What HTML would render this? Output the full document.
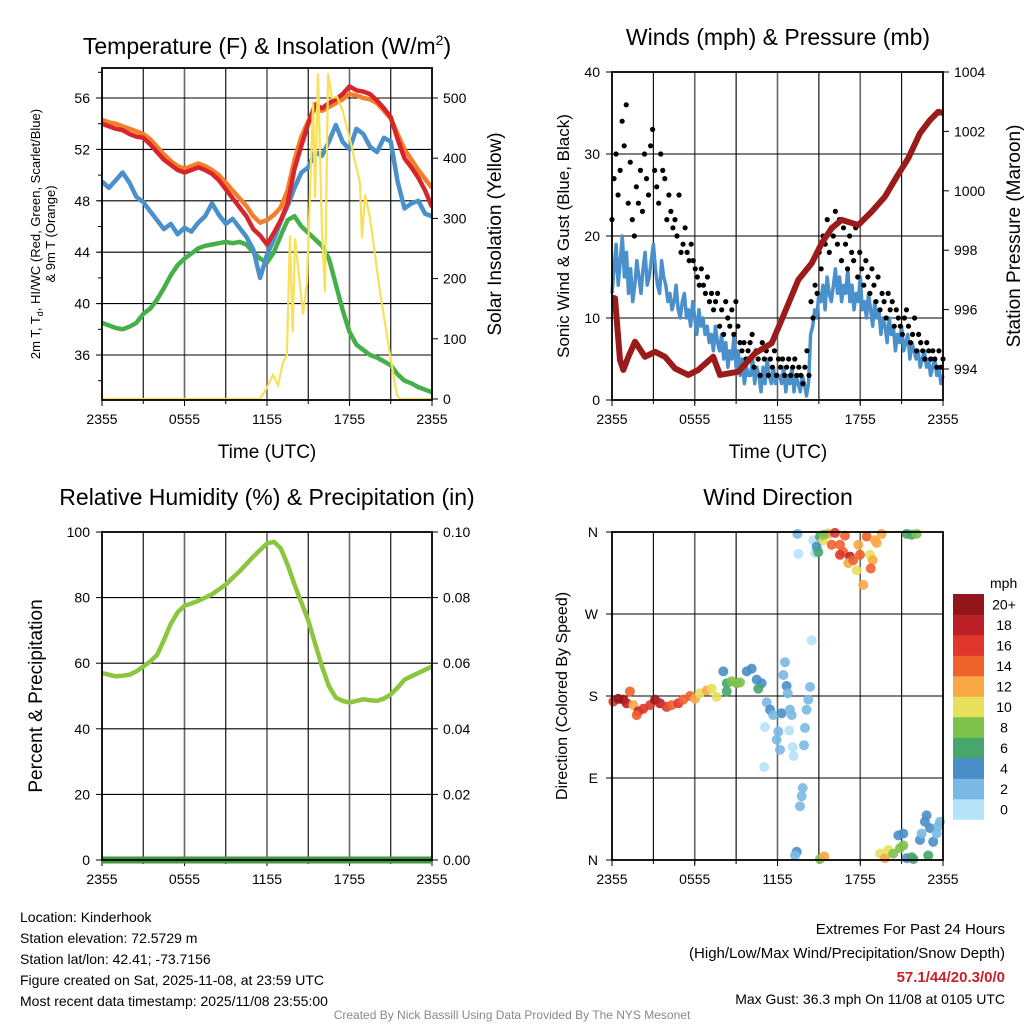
<!DOCTYPE html>
<html><head><meta charset="utf-8"><title>Kinderhook Mesonet</title>
<style>
body{margin:0;background:#fff;}
svg{display:block;font-family:"Liberation Sans",sans-serif;}
</style></head>
<body>
<svg id="chart" width="1024" height="1024" viewBox="0 0 1024 1024" xmlns="http://www.w3.org/2000/svg">
<rect x="0" y="0" width="1024" height="1024" fill="#fff"/>
<g id="layer"></g>
<!-- Titles -->
<text x="267" y="54" font-size="23" text-anchor="middle">Temperature (F) &amp; Insolation (W/m<tspan dy="-9" font-size="14">2</tspan><tspan dy="9">)</tspan></text>
<text x="778" y="45" font-size="23" text-anchor="middle">Winds (mph) &amp; Pressure (mb)</text>
<text x="267" y="505" font-size="23" text-anchor="middle">Relative Humidity (%) &amp; Precipitation (in)</text>
<text x="778" y="505" font-size="23" text-anchor="middle">Wind Direction</text>
<!-- axis titles -->
<text transform="translate(40,234) rotate(-90)" font-size="13" text-anchor="middle">2m T, T<tspan font-size="9" dy="3">d</tspan><tspan dy="-3">, HI/WC (Red, Green, Scarlet/Blue)</tspan></text>
<text transform="translate(55,234) rotate(-90)" font-size="13" text-anchor="middle">&amp; 9m T (Orange)</text>
<text transform="translate(501,234) rotate(-90)" font-size="19" text-anchor="middle">Solar Insolation (Yellow)</text>
<text x="267" y="458" font-size="19" text-anchor="middle">Time (UTC)</text>
<text transform="translate(569,236) rotate(-90)" font-size="17" text-anchor="middle">Sonic Wind &amp; Gust (Blue, Black)</text>
<text transform="translate(1020,236) rotate(-90)" font-size="19" text-anchor="middle">Station Pressure (Maroon)</text>
<text x="778" y="458" font-size="19" text-anchor="middle">Time (UTC)</text>
<text transform="translate(42,696) rotate(-90)" font-size="19" text-anchor="middle">Percent &amp; Precipitation</text>
<text transform="translate(567,696) rotate(-90)" font-size="16" text-anchor="middle">Direction (Colored By Speed)</text>
<text x="990" y="588" font-size="14">mph</text>
<!-- footer -->
<g font-size="14">
<text x="20" y="922">Location: Kinderhook</text>
<text x="20" y="943">Station elevation: 72.5729 m</text>
<text x="20" y="964">Station lat/lon: 42.41; -73.7156</text>
<text x="20" y="985">Figure created on Sat, 2025-11-08, at 23:59 UTC</text>
<text x="20" y="1006">Most recent data timestamp: 2025/11/08 23:55:00</text>
</g>
<g font-size="15" text-anchor="end">
<text x="1005" y="934">Extremes For Past 24 Hours</text>
<text x="1005" y="958">(High/Low/Max Wind/Precipitation/Snow Depth)</text>
<text x="1005" y="982" fill="#c8202a" font-weight="bold">57.1/44/20.3/0/0</text>
<text x="1005" y="1004" font-size="14">Max Gust: 36.3 mph On 11/08 at 0105 UTC</text>
</g>
<text x="512" y="1019" font-size="12" fill="#888" text-anchor="middle">Created By Nick Bassill Using Data Provided By The NYS Mesonet</text>
</svg>
<script>
// ---------- DATA ----------
const xTickLabels = ["2355","0555","1155","1755","2355"];
const tempTicks = [36,40,44,48,52,56];
const solarTicks = [0,100,200,300,400,500];
const windTicks = [0,10,20,30,40];
const pressTicks = [994,996,998,1000,1002,1004];
const rhTicks = [0,20,40,60,80,100];
const precipTicks = ["0.00","0.02","0.04","0.06","0.08","0.10"];
const dirTickLabels = ["N","E","S","W","N"];
const speedBins = ["0","2","4","6","8","10","12","14","16","18","20+"];

const tempRed = [54.0,53.8,53.6,53.5,53.2,53.0,52.9,52.4,51.8,51.2,50.8,50.4,50.2,50.4,50.6,50.4,50.1,49.6,48.9,48.2,47.5,46.8,45.8,45.3,44.6,45.5,46.5,47.8,50.5,52.3,54.0,55.5,55.2,55.6,55.9,56.3,56.9,56.6,56.5,56.3,55.8,55.2,54.5,52.8,51.3,50.6,49.8,48.8,47.5];
const tempOrange = [54.3,54.1,54.0,53.8,53.6,53.4,53.2,52.8,52.2,51.6,51.1,50.7,50.5,50.7,50.9,50.7,50.4,50.0,49.4,48.8,48.2,47.6,46.8,46.3,46.5,46.9,47.5,48.8,51.2,53.0,54.2,55.2,55.0,55.3,55.6,55.9,56.3,56.2,56.0,55.9,55.6,55.0,54.4,53.2,52.0,51.2,50.4,49.7,49.0];
const tempBlue = [49.5,49.0,49.6,50.2,49.4,48.3,47.9,47.2,46.5,45.8,46.2,45.4,45.9,45.6,46.3,46.8,47.8,46.9,46.2,46.6,45.9,45.2,44.2,42.0,43.8,45.0,46.4,47.6,49.0,50.2,50.6,51.8,51.5,52.6,53.9,52.6,52.0,53.6,53.2,52.2,51.8,52.9,52.6,49.5,47.4,47.8,48.0,47.0,46.8];
const tempGreen = [38.5,38.3,38.1,38.0,38.2,38.5,39.2,39.6,40.3,41.2,42.2,43.0,43.5,43.9,44.3,44.5,44.6,44.7,44.8,44.7,44.8,44.6,44.0,43.5,43.2,44.0,45.3,46.5,46.8,46.0,45.5,45.0,44.5,43.5,41.5,39.5,37.8,36.8,36.4,36.0,35.8,35.5,35.2,34.5,34.0,33.8,33.5,33.3,33.1];
const solarHours = [0,11.49,11.98,12.44,12.8,13.16,13.45,13.67,13.87,14.04,14.25,14.62,14.91,15.13,15.35,15.49,15.71,16.0,16.22,16.44,16.73,17.09,17.53,18.18,18.76,18.91,19.13,19.49,20.22,20.95,21.45,21.67,24];
const solarVals = [0,0,18,40,23,61,73,272,111,267,222,140,194,344,493,334,541,277,178,541,500,502,477,417,360,267,339,301,178,73,7,0,0];

const windSpeed = [13,16,19,14,17,20,15,18,13,16,12,14,17,15,13,16,18,14,15,17,19,16,14,13,17,15,14,12,13,11,12,14,11,10,12,13,10,11,9,12,10,8,11,9,10,8,9,7,8,6,9,7,6,8,5,7,4,6,5,8,4,6,3,5,2,4,3,3,5,2,4,3,1,4,2,5,3,2,4,2,3,3,2,4,1,3,2,4,1,3,2,1,3,2,0.5,2,8,9,11,10,13,12,14,11,15,13,12,14,16,13,15,12,14,13,16,12,14,11,13,12,15,11,12,10,13,11,9,12,10,11,8,10,9,7,10,8,9,6,8,7,9,6,7,8,5,7,6,5,6,4,5,6,4,5,3,4,5,3,4,2,3];
const gustVals = [22,27,30,25,28,34,31,36,24,29,22,20,26,24,28,23,30,27,25,31,33,28,26,24,30,28,27,22,25,23,21,22,20,25,18,19,21,18,17,19,17,16,15,14,16,14,13,15,12,13,11,12,13,9,11,8,12,10,9,11,8,12,9,7,6,7,5,6,7,8,4,6,5,3,7,5,6,3,5,4,6,3,5,4,5,3,4,5,3,4,5,3,4,3,2,4,6,3,12,10,14,13,18,16,20,19,22,18,21,20,23,19,22,17,21,19,16,20,18,17,21,15,18,16,14,17,15,13,16,14,12,15,11,13,12,10,13,11,12,9,11,10,9,8,10,11,9,7,8,10,6,8,7,6,5,7,6,5,6,5,4,6,4,5];
const pressHours = [0,0.22,0.58,0.82,1.18,1.67,2.39,3.12,3.84,4.57,5.53,6.26,7.34,7.83,9.16,10.37,11.58,12.3,13.51,14.48,15.2,15.93,16.65,17.86,18.83,19.79,20.64,21.48,22.33,23.06,23.66,24];
const pressVals = [996.4,996.38,994.3,993.97,994.41,994.92,994.41,994.58,994.41,994.02,993.8,993.97,994.41,993.8,993.91,994.53,994.87,995.65,997.0,997.56,998.23,998.74,999.02,998.85,999.3,999.8,1000.47,1001.09,1001.94,1002.38,1002.66,1002.62];

const rhVals = [57,56.5,56,56.2,56.5,57.5,59,60.5,62.5,67,72,75.5,77.5,78.2,79,80,81,82.5,84,86,88,90.2,92.5,94.5,96.5,97,95,90,84,78.5,73,66,59,53,49.5,48.5,48,48.5,49,48.7,48.5,49.2,50.5,52.5,55,56,57,58,59];
const precipVals = [0,0,0,0,0,0,0,0,0,0,0,0,0,0,0,0,0,0,0,0,0,0,0,0,0];

const dirHours = [0.1,0.46,0.82,1.3,1.06,1.55,1.91,1.79,2.27,2.76,3.12,3.48,3.96,4.33,4.81,5.17,5.66,6.02,6.38,6.87,7.23,7.59,8.07,8.32,8.68,9.04,9.28,9.77,10.13,10.49,10.85,10.61,8.32,
12.54,12.42,12.66,12.74,11.22,11.46,11.69,12.3,12.9,13.03,14.23,14.36,14.11,11.09,12.06,11.94,12.18,12.85,13.1,13.17,13.99,13.92,11.04,14.48,13.83,13.75,13.63,13.39,13.27,
13.44,13.51,14.59,14.72,14.84,15.08,14.96,15.32,15.68,15.93,16.17,16.53,16.89,16.77,17.26,16.53,17.13,17.49,17.86,17.98,17.74,18.22,18.47,18.71,18.9,18.76,19.07,19.55,19.19,15.32,
21.37,21.73,22.09,
15.08,15.39,19.43,19.79,20.03,20.39,20.88,21.12,20.76,21.12,21.37,21.73,21.85,22.33,22.45,22.69,22.81,23.06,23.29,23.54,23.66,23.78,22.93];
const dirDeg = [174,177,176,185,172,170,163,159,166,170,176,172,168,170,172,176,180,177,183,186,188,179,207,194,196,194,195,207,210,198,194,188,185,
217,203,191,183,173,165,159,161,165,159,176,190,165,146,141,132,121,142,124,114,145,126,102,241,79,70,59,9,5,
358,336,351,337,344,355,338,351,358,346,359,346,356,338,333,335,326,329,346,335,318,302,355,335,329,320,351,358,348,357,
358,357,358,
1,4,7,2,11,7,13,16,27,29,2,3,1,22,29,42,49,35,20,29,37,42,5];
const dirSpeed = [16,20,20,14,18,12,18,14,16,16,20,18,16,14,16,14,14,12,10,12,10,10,4,6,8,8,8,4,4,4,4,6,6,
2,2,4,2,2,4,2,4,2,2,2,2,2,0,2,2,2,0,0,0,2,2,0,0,2,2,2,4,2,
2,0,0,0,4,6,6,10,12,14,16,14,14,14,18,16,12,14,12,14,10,12,14,10,12,14,12,12,12,8,
6,6,8,
8,12,10,12,10,8,8,8,4,4,4,6,6,4,2,4,4,4,4,2,2,2,6];

const binColors = ["#b5e3f7","#7ab9e4","#4a8ec8","#47a66c","#7dc24c","#e7e05b","#f8a845","#f0622b","#e0362b","#bd1f27","#921619"];

// ---------- helpers ----------
const NS = "http://www.w3.org/2000/svg";
const layer = document.getElementById("layer");
function mk(tag, attrs, parent){
  const e = document.createElementNS(NS, tag);
  for (const k in attrs) e.setAttribute(k, attrs[k]);
  (parent||layer).appendChild(e);
  return e;
}
function lin(d0,d1,r0,r1){ return v => r0 + (v-d0)*(r1-r0)/(d1-d0); }

function framePanel(name, x0, x1, y0, y1, hGrid){
  const g = mk("g", {});
  
  
  const xs = lin(0,24,x0,x1);
  for (let h=3; h<24; h+=3){
    const gl = mk("line",{x1:xs(h),x2:xs(h),y1:y0,y2:y1,stroke:(h%6===0)?"#666":"#000","stroke-width":(h%6===0)?1.6:1.1},g);
    
    
  }
  hGrid.forEach(y=>{
    const gl = mk("line",{x1:x0,x2:x1,y1:y,y2:y,stroke:"#000","stroke-width":1.1},g);
    
    
  });
  xTickLabels.forEach((lab,i)=>{
    const x = xs(i*6);
    mk("line",{x1:x,x2:x,y1:y1,y2:y1+6,stroke:"#000"},g);
    const t = mk("text",{x:x,y:y1+24,"font-size":14,"text-anchor":"middle"},g);
    t.textContent = lab;
    
    
  });
  for (let h=0; h<=24; h+=3){ mk("line",{x1:xs(h),x2:xs(h),y1:y1,y2:y1+4,stroke:"#000"},g); }
  return {g, xs};
}
function border(g,x0,x1,y0,y1){
  const b = mk("rect",{x:x0,y:y0,width:x1-x0,height:y1-y0,fill:"none",stroke:"#000","stroke-width":1.8},g);
  
  
}
function leftTicks(g, vals, ys, x0, name, fmt){
  vals.forEach(v=>{
    mk("line",{x1:x0-6,x2:x0,y1:ys(v),y2:ys(v),stroke:"#000"},g);
    const t = mk("text",{x:x0-12,y:ys(v)+5,"font-size":14,"text-anchor":"end"},g);
    t.textContent = fmt?fmt(v):v;
    
    
  });
}
function rightTicks(g, vals, ys, x1, name, labels){
  vals.forEach((v,i)=>{
    mk("line",{x1:x1,x2:x1+6,y1:ys(v),y2:ys(v),stroke:"#000"},g);
    const t = mk("text",{x:x1+11,y:ys(v)+5,"font-size":14,"text-anchor":"start"},g);
    t.textContent = labels?labels[i]:v;
    
    
  });
}
function pathFrom(ts, vs, xs, ys){
  return vs.map((v,i)=>(i?"L":"M")+xs(ts[i]).toFixed(1)+","+ys(v).toFixed(1)).join("");
}
function evenHours(n){ const a=[]; for(let i=0;i<n;i++) a.push(i*24/(n-1)); return a; }

// ---------- Panel 1: temperature ----------
(function(){
  const x0=102,x1=432,y0=68,y1=400;
  const yT = lin(36,56,355,98);
  const yS = lin(0,500,399,98);
  const P = framePanel("temp", x0,x1,y0,y1, tempTicks.map(yT));
  const g = P.g, xs = P.xs;
  const clip = mk("clipPath",{id:"c1"}); mk("rect",{x:x0,y:y0,width:x1-x0,height:y1-y0},clip);
  const series = [[tempGreen,"#45b04a","dewpoint-line"],[tempBlue,"#4a90cc","temperature-line"],[tempOrange,"#f57e2a","9m-temperature-line"],[tempRed,"#d7262b","heat-index-line"]];
  series.forEach(s=>{
    const p = mk("path",{d:pathFrom(evenHours(s[0].length),s[0],xs,yT),fill:"none",stroke:s[1],"stroke-width":4.5,"stroke-linejoin":"round","clip-path":"url(#c1)"},g);
    
    
  });
  const sp = mk("path",{d:pathFrom(solarHours,solarVals,xs,yS),fill:"none",stroke:"#f8e057","stroke-width":2.2,"clip-path":"url(#c1)"},g);
  
  
  border(g,x0,x1,y0,y1);
  leftTicks(g,tempTicks,yT,x0,"temp");
  for (let v=34; v<=58; v+=2){ mk("line",{x1:x0-4,x2:x0,y1:yT(v),y2:yT(v),stroke:"#000"},g); }
  rightTicks(g,solarTicks,yS,x1,"solar");
})();

// ---------- Panel 2: winds ----------
(function(){
  const x0=612,x1=943,y0=72,y1=400;
  const yW = lin(0,40,400,72);
  const yP = lin(994,1004,369,72);
  const P = framePanel("wind", x0,x1,y0,y1, [10,20,30].map(yW));
  const g = P.g, xs = P.xs;
  const wp = mk("path",{d:pathFrom(evenHours(windSpeed.length),windSpeed,xs,yW),fill:"none",stroke:"#4a90cc","stroke-width":3.5,"stroke-linejoin":"round"},g);
  
  
  const gh = evenHours(gustVals.length);
  gustVals.forEach((v,i)=>{
    const c = mk("circle",{cx:xs(gh[i]),cy:yW(v),r:2.6,fill:"#000"},g);
    
    
  });
  const pp = mk("path",{d:pathFrom(pressHours,pressVals,xs,yP),fill:"none",stroke:"#9b1b1b","stroke-width":6,"stroke-linejoin":"round"},g);
  
  
  border(g,x0,x1,y0,y1);
  leftTicks(g,windTicks,yW,x0,"wind");
  rightTicks(g,pressTicks,yP,x1,"pressure");
})();

// ---------- Panel 3: RH ----------
(function(){
  const x0=102,x1=432,y0=532,y1=860;
  const yR = lin(0,100,860,532);
  const yPr = lin(0,0.1,860,532);
  const P = framePanel("rh", x0,x1,y0,y1, [20,40,60,80].map(yR));
  const g = P.g, xs = P.xs;
  const rp = mk("path",{d:pathFrom(evenHours(rhVals.length),rhVals,xs,yR),fill:"none",stroke:"#8cc63f","stroke-width":4.5,"stroke-linejoin":"round"},g);
  
  
  const pr = mk("path",{d:pathFrom(evenHours(precipVals.length),precipVals,xs,yPr),fill:"none",stroke:"#3b9b3b","stroke-width":7},g);
  
  
  border(g,x0,x1,y0,y1);
  leftTicks(g,rhTicks,yR,x0,"rh");
  rightTicks(g,precipTicks.map(Number),yPr,x1,"precip",precipTicks);
})();

// ---------- Panel 4: direction ----------
(function(){
  const x0=612,x1=943,y0=532,y1=860;
  const yD = lin(0,360,860,532);
  const P = framePanel("direction", x0,x1,y0,y1, [90,180,270].map(yD));
  const g = P.g, xs = P.xs;
  dirDeg.forEach((d,i)=>{
    const bin = Math.min(10, Math.floor(dirSpeed[i]/2));
    const c = mk("circle",{cx:xs(dirHours[i]),cy:yD(d),r:5,fill:binColors[bin],"fill-opacity":0.9},g);
    
    
  });
  border(g,x0,x1,y0,y1);
  dirTickLabels.forEach((lab,i)=>{
    const y = yD(i*90);
    mk("line",{x1:x0-6,x2:x0,y1:y,y2:y,stroke:"#000"},g);
    const t = mk("text",{x:x0-14,y:y+5,"font-size":14,"text-anchor":"end"},g);
    t.textContent = lab;
    
    
  });
  // colorbar
  const cb = mk("g",{});
  
  
  const bh = 20.5, top = 594;
  speedBins.forEach((lab,i)=>{
    const k = speedBins.length-1-i;
    const r = mk("rect",{x:953,y:top+k*bh,width:31,height:bh+0.3,fill:binColors[i]},cb);
    
    
    const t = mk("text",{x:1004,y:top+k*bh+bh/2+5,"font-size":14,"text-anchor":"middle"},cb);
    t.textContent = lab;
    
    
  });
})();
</script>
</body></html>
